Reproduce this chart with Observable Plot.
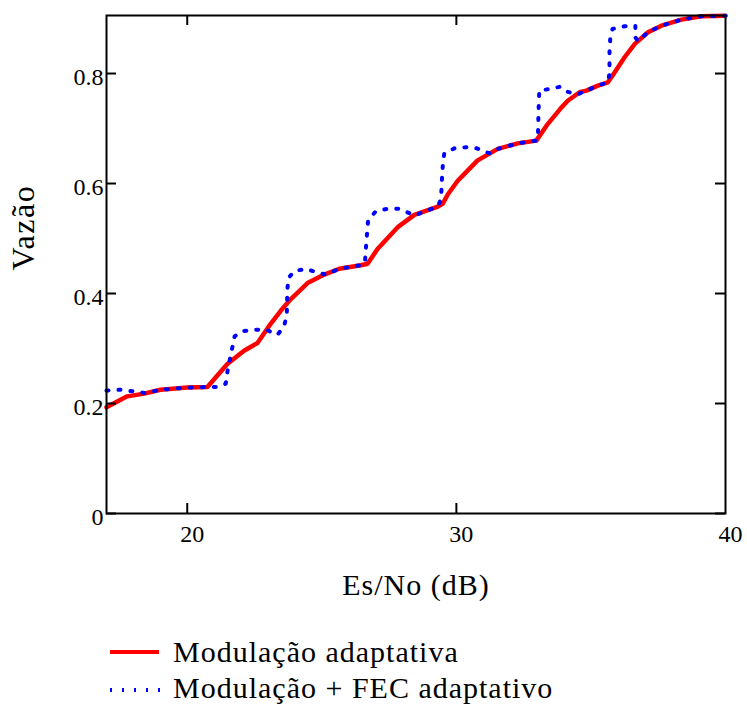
<!DOCTYPE html>
<html>
<head>
<meta charset="utf-8">
<script src="https://cdn.jsdelivr.net/npm/d3@7"></script>
<script src="https://cdn.jsdelivr.net/npm/@observablehq/plot@0.6"></script>
<style>
  html, body { margin: 0; padding: 0; background: #fff; }
  body { width: 747px; height: 706px; overflow: hidden; font-family: "Liberation Serif", "Times New Roman", serif; }
  #legend { font-size: 30px; letter-spacing: 1px; color: #000; margin-top: 4px; }
  .row { height: 36px; line-height: 36px; display: flex; align-items: center; white-space: nowrap; }
  .row svg { margin-left: 110px; margin-right: 13px; flex: none; }
</style>
</head>
<body>
<div id="chart"></div>
<div id="legend">
  <div class="row"><svg width="50" height="36"><line x1="0" x2="49" y1="18" y2="18" stroke="#ff0000" stroke-width="4"/></svg><span>Modulação adaptativa</span></div>
  <div class="row"><svg width="50" height="36"><line x1="0" x2="50" y1="20" y2="20" stroke="#0000ff" stroke-width="4" stroke-dasharray="2,10"/></svg><span>Modulação + FEC adaptativo</span></div>
</div>
<script>
// Series: Modulação adaptativa (red, solid)
const redX = [17, 17.77, 18.4, 19.0, 20.0, 20.75, 21.49, 22.11, 22.61, 23.10, 23.48, 23.85, 24.47, 25.09, 25.65, 26.45, 26.70, 27.07, 27.82, 28.44, 29.31, 29.49, 29.68, 30.05, 30.30, 30.79, 31.54, 32.28, 32.97, 33.40, 33.90, 34.15, 34.58, 34.83, 35.26, 35.63, 35.88, 36.25, 36.63, 37.12, 37.62, 38.36, 39.1, 40];
const redY = [0.193, 0.213, 0.218, 0.225, 0.229, 0.230, 0.272, 0.296, 0.310, 0.345, 0.369, 0.390, 0.419, 0.4345, 0.445, 0.4515, 0.454, 0.481, 0.5206, 0.543, 0.558, 0.563, 0.580, 0.605, 0.6176, 0.642, 0.663, 0.673, 0.678, 0.7085, 0.738, 0.751, 0.766, 0.769, 0.778, 0.784, 0.802, 0.8296, 0.854, 0.875, 0.887, 0.898, 0.904, 0.905];

// Series: Modulação + FEC adaptativo (blue, dotted)
const blueX = [17, 17.5, 17.99, 18.45, 19.0, 20.0, 20.75, 21.12, 21.43, 21.5, 21.76, 22.05, 22.48, 22.92, 23.35, 23.6, 23.70, 23.72, 23.76, 23.97, 24.4, 24.78, 25.15, 25.65, 26.45, 26.6, 26.65, 26.72, 27.01, 27.44, 27.9, 28.16, 28.44, 29.31, 29.43, 29.47, 29.5, 29.55, 29.93, 30.36, 30.76, 31.23, 31.54, 32.28, 32.97, 33.03, 33.05, 33.08, 33.49, 33.86, 34.12, 34.5, 34.83, 35.26, 35.63, 35.69, 35.69, 35.72, 35.8, 36.25, 36.65, 36.66, 36.75, 37.12, 37.62, 38.36, 39.1, 40];
const blueY = [0.2236, 0.225, 0.222, 0.219, 0.225, 0.229, 0.230, 0.230, 0.236, 0.26, 0.322, 0.3315, 0.334, 0.3345, 0.325, 0.340, 0.363, 0.407, 0.428, 0.4405, 0.445, 0.439, 0.4345, 0.445, 0.4515, 0.455, 0.49, 0.533, 0.5497, 0.554, 0.554, 0.548, 0.542, 0.558, 0.572, 0.6145, 0.636, 0.655, 0.664, 0.666, 0.664, 0.655, 0.663, 0.673, 0.678, 0.683, 0.727, 0.769, 0.772, 0.776, 0.767, 0.762, 0.769, 0.778, 0.784, 0.80, 0.843, 0.865, 0.881, 0.886, 0.887, 0.865, 0.859, 0.875, 0.887, 0.898, 0.904, 0.905];

// Axes
const xDomain = [17, 40];
const yDomain = [0, 0.9055];
const xTicks = [20, 30, 40];
const yTicks = [0, 0.2, 0.4, 0.6, 0.8];
const xTickMarks = [20, 30];
const yTickMarks = [0, 0.2, 0.4, 0.6, 0.8];
const xTitle = "Es/No (dB)";
const yTitle = "Vazão";

const red = redX.map((x, i) => ({x, y: redY[i]}));
const blue = blueX.map((x, i) => ({x, y: blueY[i]}));

const W = 747, H = 630;
const mL = 106, mR = 22, mT = 15, mB = 117;
const fw = W - mL - mR, fh = H - mT - mB;
const tl = 10;

const chart = Plot.plot({
  width: W,
  height: H,
  marginLeft: mL,
  marginRight: mR,
  marginTop: mT,
  marginBottom: mB,
  style: {fontFamily: '"Liberation Serif", "Times New Roman", serif', background: "#fff", color: "#000", overflow: "visible"},
  x: {domain: xDomain},
  y: {domain: yDomain},
  marks: [
    Plot.line(red, {x: "x", y: "y", stroke: "#ff0000", strokeWidth: 4.5, strokeLinejoin: "round"}),
    Plot.line(blue, {x: "x", y: "y", stroke: "#0000ff", strokeWidth: 4, strokeDasharray: "2,10"}),
    Plot.frame({stroke: "#000", strokeWidth: 2}),
    Plot.tickX(xTickMarks, {x: d => d, stroke: "#000", strokeWidth: 2, insetTop: fh - tl}),
    Plot.tickX(xTickMarks, {x: d => d, stroke: "#000", strokeWidth: 2, insetBottom: fh - tl}),
    Plot.tickY(yTickMarks, {y: d => d, stroke: "#000", strokeWidth: 2, insetRight: fw - tl}),
    Plot.tickY(yTickMarks, {y: d => d, stroke: "#000", strokeWidth: 2, insetLeft: fw - tl}),
    Plot.axisX({ticks: xTicks, tickSize: 0, tickPadding: 11, fontSize: 24, dx: 5, label: null, tickFormat: d => String(d)}),
    Plot.axisY({ticks: yTicks, tickSize: 0, tickPadding: 3, fontSize: 24, dy: 4, label: null, tickFormat: d => String(d)}),
    Plot.text([xTitle], {text: d => d, frameAnchor: "bottom", dy: 81, fontSize: 30, fill: "#000"}),
    Plot.text([yTitle], {text: d => d, frameAnchor: "left", dx: -83, dy: 6, rotate: -90, fontSize: 32, fill: "#000"})
  ]
});
chart.querySelectorAll("text").forEach(t => {
  if (t.textContent === xTitle) t.setAttribute("letter-spacing", "1");
  if (t.textContent === yTitle) t.setAttribute("letter-spacing", "1.5");
});
document.getElementById("chart").appendChild(chart);
</script>
</body>
</html>
